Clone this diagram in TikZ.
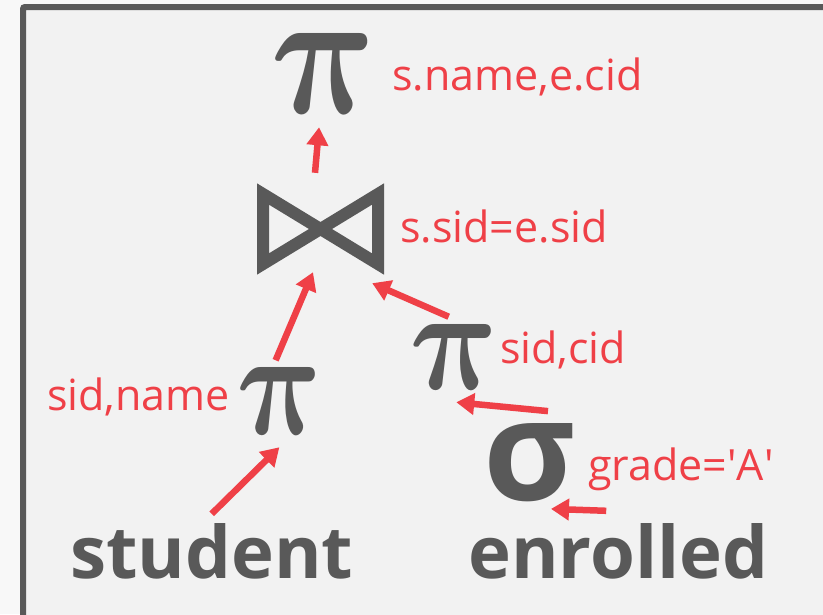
\documentclass[tikz,border=0pt]{standalone}
\usepackage{amsmath}
\usepackage{fontspec}
\setmainfont{Open Sans}
\usepackage{tikz}
\usetikzlibrary{arrows.meta}
\definecolor{opred}{RGB}{239,64,71}
\definecolor{opgray}{RGB}{89,89,89}
\definecolor{panel}{RGB}{242,242,242}
\definecolor{page}{RGB}{248,248,248}

\begin{document}
\begin{tikzpicture}[x=1pt, y=-1pt,
  op/.style={inner sep=0pt, text=opgray},
  pi/.style={op, xslant=-0.1, transform shape},
  lbl/.style={inner sep=0pt, text=opred, font=\fontsize{43}{50}\selectfont},
  rel/.style={inner sep=0pt, text=opgray, font=\bfseries},
  arr/.style={-{Triangle[length=18pt,width=21pt]}, line width=6.5pt, draw=opred},
  bowtie/.style={draw=opgray, line width=12pt, line join=miter}
]
  \useasboundingbox (0,0) rectangle (823,614);
  \clip (0,0) rectangle (823,614);
  \fill[page] (0,0) rectangle (823,614);
  \draw[opgray, line width=6pt, fill=panel, rounded corners=2pt] (23,7) rectangle (860,650);

  \node[pi] (piTop) at (326,73) {\resizebox{106pt}{80pt}{$\boldsymbol{\pi}$}};
  \node[lbl, anchor=base west] (lblTop) at (392,90) {s.name,e.cid};
  \node[minimum width=127pt, minimum height=92pt, inner sep=0pt] (join) at (320.5,229) {};
  \draw[bowtie] (263,194) -- (378,264) -- (378,194) -- (263,264) -- cycle;
  \node[lbl, anchor=base west] (lblJoin) at (400,242) {s.sid=e.sid};
  \node[pi] (piL) at (281,401) {\resizebox{86pt}{67pt}{$\boldsymbol{\pi}$}};
  \node[lbl, anchor=base west] (lblL) at (47,410) {sid,name};
  \node[pi] (piR) at (456,357) {\resizebox{89pt}{65pt}{$\boldsymbol{\pi}$}};
  \node[lbl, anchor=base west] (lblR) at (500,363) {sid,cid};
  \node[op] (sel) at (530,463) {\resizebox{92pt}{77pt}{\bfseries σ}};
  \node[lbl, anchor=base west] (lblSel) at (588,480) {grade=\textquotesingle A\textquotesingle};
  \node[rel, anchor=base west] (stud) at (70,578) {\resizebox{283pt}{55pt}{student}};
  \node[rel, anchor=base west] (enr) at (468,578) {\resizebox{300pt}{55pt}{enrolled}};

  \draw[arr] ([yshift=9pt]stud.north) -- ([xshift=-5pt,yshift=-12.5pt]piL.south);
  \draw[arr] ([xshift=-2pt,yshift=7pt]piL.north) -- ([xshift=-7.5pt,yshift=3pt]join.south);
  \draw[arr] ([xshift=-5.5pt,yshift=10pt]join.north) -- ([xshift=-11pt,yshift=-14pt]piTop.south);
  \draw[arr] ([xshift=-4pt,yshift=7.5pt]piR.north) -- ([xshift=-12pt,yshift=-8pt]join.south east);
  \draw[arr] ([xshift=18pt,yshift=12.5pt]sel.north) -- ([xshift=-3pt,yshift=-12.5pt]piR.south);
  \draw[arr] ([xshift=-12pt,yshift=12pt]enr.north) -- ([xshift=21pt,yshift=-6.5pt]sel.south);
\end{tikzpicture}
\end{document}
